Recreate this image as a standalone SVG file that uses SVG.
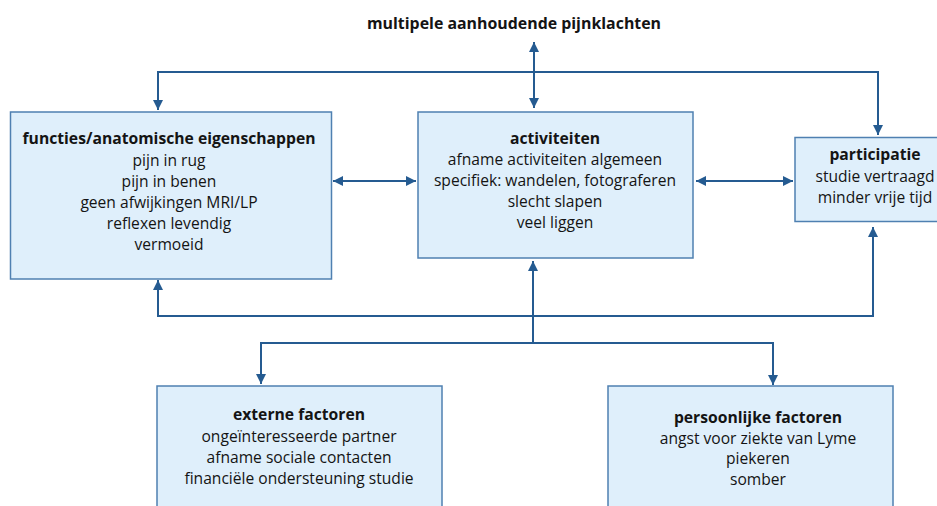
<svg xmlns="http://www.w3.org/2000/svg" width="937" height="506" viewBox="0 0 937 506">
<defs>
<marker id="ah" viewBox="0 0 10 10" refX="10" refY="5" markerWidth="10" markerHeight="10" markerUnits="userSpaceOnUse" orient="auto-start-reverse">
<path d="M0,0 L10,5 L0,10 Z" fill="#255b91"/>
</marker>
<style>
.box{fill:#dfeffb;stroke:#4f80b1;stroke-width:1.5}
.ln{fill:none;stroke:#255b91;stroke-width:2}
text{font-family:"Open Sans","Noto Sans","Liberation Sans",sans-serif;font-size:15.6px;fill:#141414;text-anchor:middle}
.t{font-weight:bold;font-size:15.7px}
.h{font-weight:bold;font-size:15.9px}
</style>
</defs>
<rect width="937" height="506" fill="#ffffff"/>
<text class="h" x="514" y="29">multipele aanhoudende pijnklachten</text>
<g id="connectors">
<path class="ln" d="M534,42 L534,108" marker-start="url(#ah)" marker-end="url(#ah)"/>
<path class="ln" d="M158,110 L158,72 L878,72 L878,135" marker-start="url(#ah)" marker-end="url(#ah)"/>
<path class="ln" d="M333,181 L416,181" marker-start="url(#ah)" marker-end="url(#ah)"/>
<path class="ln" d="M696,181 L793,181" marker-start="url(#ah)" marker-end="url(#ah)"/>
<path class="ln" d="M158,280 L158,316 L873,316 L873,227" marker-start="url(#ah)" marker-end="url(#ah)"/>
<path class="ln" d="M533,343 L533,261" marker-end="url(#ah)"/>
<path class="ln" d="M261,384 L261,343 L773,343 L773,385" marker-start="url(#ah)" marker-end="url(#ah)"/>
</g>
<g id="functies">
<rect class="box" x="10.5" y="112" width="321" height="167"/>
<text class="t" x="169" y="144">functies/anatomische eigenschappen</text>
<text x="169" y="165.5">pijn in rug</text>
<text x="169" y="186.5">pijn in benen</text>
<text x="169" y="207.5">geen afwijkingen MRI/LP</text>
<text x="169" y="228.5">reflexen levendig</text>
<text x="169" y="249.5">vermoeid</text>
</g>
<g id="activiteiten">
<rect class="box" x="418" y="112" width="275" height="146"/>
<text class="t" x="555" y="144">activiteiten</text>
<text x="555" y="165">afname activiteiten algemeen</text>
<text x="555" y="186">specifiek: wandelen, fotograferen</text>
<text x="555" y="207">slecht slapen</text>
<text x="555" y="228">veel liggen</text>
</g>
<g id="participatie">
<rect class="box" x="795" y="137.5" width="160" height="84"/>
<text class="t" x="875" y="160">participatie</text>
<text x="875" y="182">studie vertraagd</text>
<text x="875" y="203">minder vrije tijd</text>
</g>
<g id="externe">
<rect class="box" x="157" y="386" width="285" height="130"/>
<text class="t" x="299" y="420">externe factoren</text>
<text x="299" y="441.5">ongeïnteresseerde partner</text>
<text x="299" y="462.5">afname sociale contacten</text>
<text x="299" y="484">financiële ondersteuning studie</text>
</g>
<g id="persoonlijke">
<rect class="box" x="608" y="386" width="285" height="130"/>
<text class="t" x="758" y="422.5">persoonlijke factoren</text>
<text x="758" y="443.5">angst voor ziekte van Lyme</text>
<text x="758" y="464">piekeren</text>
<text x="758" y="485">somber</text>
</g>
</svg>
